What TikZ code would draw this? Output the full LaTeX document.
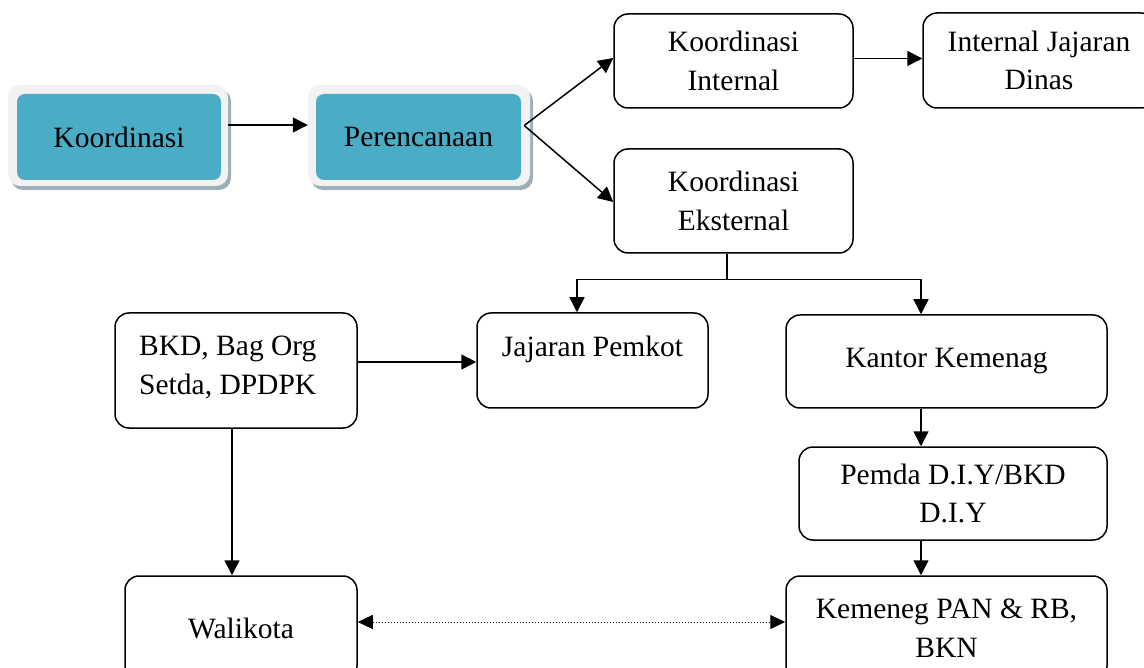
\documentclass[tikz,border=0pt]{standalone}
\usepackage{fontspec}
\setmainfont{Liberation Serif}
\usetikzlibrary{arrows.meta}
\definecolor{tealfill}{HTML}{4BACC6}
\definecolor{framefill}{HTML}{F2F2F2}
\definecolor{shadefill}{HTML}{9DB0B8}
\tikzset{
  txt/.style={font=\fontsize{29.5}{38.5}\selectfont},
  box/.style={draw, line width=1.5pt, rounded corners=14pt, align=center, inner sep=0pt, txt},
  frm/.style={fill=framefill, rounded corners=12pt, inner sep=0pt},
  core/.style={fill=tealfill, rounded corners=8pt, inner sep=0pt, txt},
  arr/.style={line width=1.5pt, -{Triangle[length=15pt,width=15pt]}},
  plain/.style={line width=1.5pt},
  dotarr/.style={line width=1pt, dash pattern=on 1.5pt off 1.5pt,
    {Triangle[length=15pt,width=14pt]}-{Triangle[length=15pt,width=14pt]}},
}
\begin{document}
\begin{tikzpicture}[x=1pt,y=-1pt]
\useasboundingbox (0,0) rectangle (1144,668);
\clip (0,0) rectangle (1144,668);
% shadows of the two highlighted boxes
\fill[shadefill, rounded corners=12pt] (11,89) rectangle (231,190);
\fill[shadefill, rounded corners=12pt] (311,89) rectangle (533,190);
% highlighted boxes
\node[frm, minimum width=220pt, minimum height=101pt] (koor) at (118,135.5) {};
\node[core, minimum width=204pt, minimum height=86pt] (koorc) at (119,137) {Koordinasi};
\node[frm, minimum width=222pt, minimum height=101pt] (peren) at (419,135.5) {};
\node[core, minimum width=205pt, minimum height=86pt] (perenc) at (418.5,137) {Perencanaan};
% plain boxes
\node[box, minimum width=239pt, minimum height=94pt] (kint) at (733.5,61) {Koordinasi\\Internal};
\node[box, minimum width=232pt, minimum height=95pt] (ijd) at (1039,60.5) {Internal Jajaran\\Dinas};
\node[box, minimum width=239pt, minimum height=104pt] (keks) at (733.5,201) {Koordinasi\\Eksternal};
\node[box, minimum width=242pt, minimum height=115pt] (bkd) at (236,370.5) {};
\node[txt, align=left, anchor=north west, inner sep=0pt] (bkdt) at (139,336) {BKD, Bag Org\\Setda, DPDPK};
\node[box, minimum width=231pt, minimum height=95pt] (jp) at (592.5,360.5) {};
\node[txt, anchor=north, inner sep=0pt] (jpt) at (592.5,336) {Jajaran Pemkot};
\node[box, minimum width=321pt, minimum height=93pt] (kk) at (946.5,361.5) {Kantor Kemenag};
\node[box, minimum width=308pt, minimum height=93pt] (pemda) at (953,493.5) {Pemda D.I.Y/BKD\\D.I.Y};
\node[box, minimum width=232pt, minimum height=104pt] (wali) at (241,628) {Walikota};
\node[box, minimum width=321pt, minimum height=104pt] (kpan) at (946.5,628) {Kemeneg PAN \& RB,\\BKN};
% connectors
\draw[arr] ([yshift=10.5pt]koor.east) -- ([yshift=10.5pt]koor.east -| peren.west);
\draw[arr] ([xshift=-6pt,yshift=10pt]peren.east) -- ([yshift=3pt]kint.west);
\draw[arr] ([xshift=-6pt,yshift=10pt]peren.east) -- ([yshift=-1pt]keks.west);
\draw[arr] ([yshift=2.5pt]kint.east) -- ([yshift=2.5pt]kint.east -| ijd.west);
\draw[plain] ([xshift=-6.5pt]keks.south) -- ++(0,26) coordinate (split);
\draw[arr] (split) -| ([xshift=-15.5pt]jp.north);
\draw[arr] (split) -| ([xshift=-25.5pt]kk.north);
\draw[arr] ([yshift=8.5pt]bkd.east) -- ([yshift=8.5pt]bkd.east -| jp.west);
\draw[arr] ([xshift=-4pt]bkd.south) -- ([xshift=-4pt]bkd.south |- wali.north);
\draw[arr] ([xshift=-25.5pt]kk.south) -- ([xshift=-25.5pt]kk.south |- pemda.north);
\draw[arr] ([xshift=-32pt]pemda.south) -- ([xshift=-32pt]pemda.south |- kpan.north);
\draw[dotarr] ([yshift=6pt]wali.east) -- ([yshift=6pt]wali.east -| kpan.west);
\end{tikzpicture}
\end{document}
